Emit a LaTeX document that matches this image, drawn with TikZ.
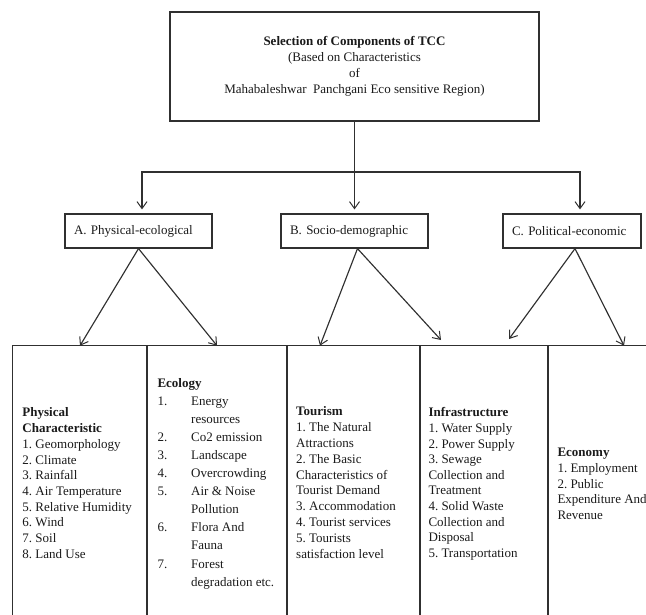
\documentclass[tikz,border=0pt]{standalone}
\usepackage{fontspec}
\setmainfont{Liberation Serif}
\usetikzlibrary{arrows.meta,calc}
\definecolor{ink}{HTML}{1A1A1A}
\definecolor{edgec}{HTML}{303030}
\newcommand\ecnum[1]{\makebox[33.7pt][l]{#1}}
\frenchspacing
\begin{document}
\begin{tikzpicture}[x=1pt,y=-1pt,
  line/.style={draw=edgec, line width=1.15pt},
  arr/.style={line, -{Straight Barb[length=7pt,width=10pt,line width=1pt]}},
  catbox/.style={line, rectangle, minimum height=34pt, inner xsep=9pt, inner ysep=0pt,
    align=left, font=\fontsize{13}{15.7}\selectfont, text=ink},
  coltext/.style={anchor=north west, inner sep=0pt, align=left, text=ink,
    font=\fontsize{13}{15.7}\selectfont},
]
\useasboundingbox (0,0) rectangle (646,614);

% title box
\node[line, rectangle, minimum width=369pt, minimum height=109pt, inner sep=0pt,
  align=center, text=ink, font=\fontsize{13}{16}\selectfont] (top) at (354.5,66.5)
  {\textbf{Selection of Components of TCC}\\(Based on Characteristics\\of\\Mahabaleshwar\ \ Panchgani Eco sensitive Region)};

% category boxes
\node[catbox, minimum width=147pt, text width=129pt] (A) at (138.5,231) {A. Physical-ecological};
\node[catbox, minimum width=147pt, text width=129pt] (B) at (354.5,231) {B. Socio-demographic};
\node[catbox, minimum width=138pt, text width=120pt] (C) at (572,231) {C. Political-economic};

% top connectors
\coordinate (bus) at (top.south |- 0,172);
\draw[arr] (top.south) -- ([yshift=4pt]B.north);
\draw[arr] (bus) -| ([xshift=3.5pt,yshift=4pt]A.north);
\draw[arr] (bus) -| ([xshift=8pt,yshift=4pt]C.north);

% table
\draw[line] (12.5,660) |- (680,345.7);
\draw[line] (147,345.7) -- (147,660);
\draw[line] (287,345.7) -- (287,660);
\draw[line] (420,345.7) -- (420,660);
\draw[line] (548,345.7) -- (548,660);

% arrow targets on the table
\coordinate (a1) at (80,345.7);
\coordinate (a2) at (217,345.7);
\coordinate (b1) at (320,345.7);
\coordinate (b2) at (441,340);
\coordinate (c1) at (509,339);
\coordinate (c2) at (624,345.7);
\draw[arr] (A.south) -- (a1);
\draw[arr] (A.south) -- (a2);
\draw[arr] ([xshift=3pt]B.south) -- (b1);
\draw[arr] ([xshift=3pt]B.south) -- (b2);
\draw[arr] ([xshift=3pt]C.south) -- (c1);
\draw[arr] ([xshift=3pt]C.south) -- (c2);

% column texts
\node[coltext] (t1) at (22.3,406.7) {\rule{0pt}{10pt}\textbf{Physical}\\\textbf{Characteristic}\\1. Geomorphology\\2. Climate\\3. Rainfall\\4. Air Temperature\\5. Relative Humidity\\6. Wind\\7. Soil\\8. Land Use};

\node[coltext, font=\fontsize{13}{18.05}\selectfont] (t2) at (157.3,377.3) {\rule{0pt}{10pt}\textbf{Ecology}\\\ecnum{1.}Energy\\\ecnum{}resources\\\ecnum{2.}Co2 emission\\\ecnum{3.}Landscape\\\ecnum{4.}Overcrowding\\\ecnum{5.}Air \& Noise\\\ecnum{}Pollution\\\ecnum{6.}Flora And\\\ecnum{}Fauna\\\ecnum{7.}Forest\\\ecnum{}degradation etc.};

\node[coltext, font=\fontsize{13}{15.8}\selectfont] (t3) at (296,405.7) {\rule{0pt}{10pt}\textbf{Tourism}\\1. The Natural\\Attractions\\2. The Basic\\Characteristics of\\Tourist Demand\\3. Accommodation\\4. Tourist services\\5. Tourists\\satisfaction level};

\node[coltext, font=\fontsize{13}{15.6}\selectfont] (t4) at (428.3,406.7) {\rule{0pt}{10pt}\textbf{Infrastructure}\\1. Water Supply\\2. Power Supply\\3. Sewage\\Collection and\\Treatment\\4. Solid Waste\\Collection and\\Disposal\\5. Transportation};

\node[coltext, font=\fontsize{13}{15.6}\selectfont] (t5) at (557.3,446.7) {\rule{0pt}{10pt}\textbf{Economy}\\1. Employment\\2. Public\\Expenditure And\\Revenue};
\end{tikzpicture}
\end{document}
